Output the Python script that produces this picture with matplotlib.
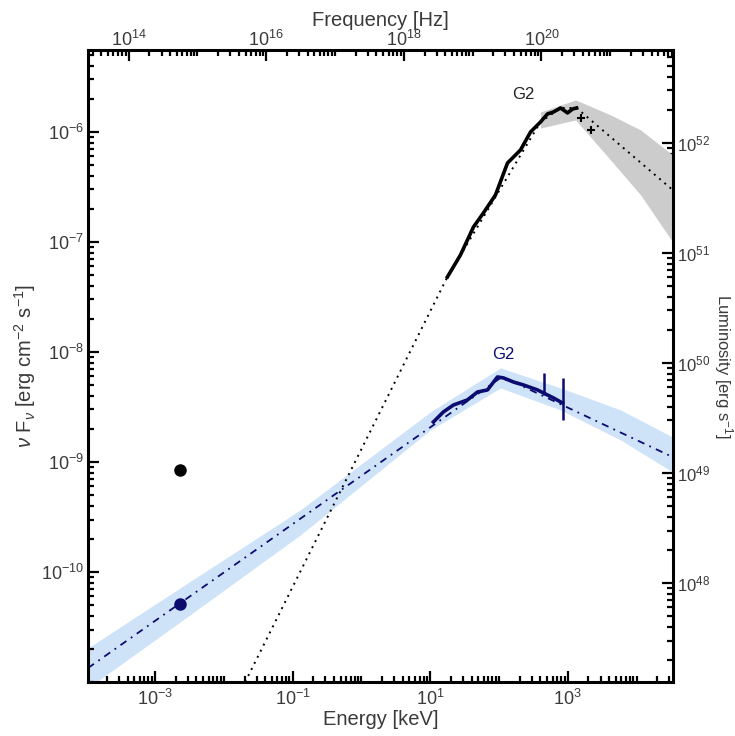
import numpy as np
import matplotlib
matplotlib.use("Agg")
import matplotlib.pyplot as plt
from matplotlib.ticker import FixedLocator, LogLocator, NullFormatter

plt.rcParams['font.family'] = ['Liberation Sans', 'DejaVu Sans']
plt.rcParams['mathtext.fontset'] = 'custom'
plt.rcParams['mathtext.rm'] = 'Liberation Sans'
plt.rcParams['mathtext.it'] = 'Liberation Sans:italic'

# ---- data (log10 values) ----
# black (G2) model line: log10 E [keV], log10 nuFnu
blk_model_logE = [-1.690, 1.250, 2.604, 2.895, 3.128, 4.525]
blk_model_logF = [-11.0, -7.318, -5.909, -5.782, -5.782, -6.527]
# black data points
blk_data_logE = [1.250, 1.440, 1.629, 1.774, 1.949, 2.124, 2.313, 2.459, 2.604,
                 2.706, 2.793, 2.895, 2.997, 3.070, 3.128]
blk_data_logF = [-7.318, -7.118, -6.864, -6.736, -6.573, -6.282, -6.164, -6.0,
                 -5.909, -5.836, -5.818, -5.782, -5.827, -5.791, -5.782]
blk_cross_logE = [3.186, 3.332]
blk_cross_logF = [-5.873, -5.982]
# grey band
grey_band_logE = [2.604, 3.114, 3.623, 4.060, 4.525]
grey_band_hi = [-5.818, -5.709, -5.845, -5.982, -6.209]
grey_band_lo = [-5.964, -5.891, -6.255, -6.573, -7.0]
# optical points
opt_logE = -2.636
opt_blk_logF = -9.073
opt_blu_logF = -10.29

# blue model line
blu_model_logE = [-3.975, 2.022, 2.211, 4.525]
blu_model_logF = [-10.873, -8.236, -8.273, -8.955]
# blue data
blu_data_logE = [1.047, 1.192, 1.338, 1.541, 1.687, 1.833, 1.978, 2.066, 2.211,
                 2.357, 2.560, 2.648, 2.793, 2.924]
blu_data_logF = [-8.636, -8.545, -8.482, -8.436, -8.364, -8.345, -8.227, -8.236,
                 -8.273, -8.300, -8.345, -8.373, -8.418, -8.464]
blu_err_logE = [2.648, 2.924]
blu_err_lo = [-8.391, -8.618]
blu_err_hi = [-8.191, -8.236]
# blue band
blu_band_logE = [-3.975, -2.636, -0.889, 1.003, 2.022, 2.895, 3.769, 4.525]
blu_band_hi = [-10.691, -10.145, -9.436, -8.545, -8.145, -8.327, -8.527, -8.773]
blu_band_lo = [-11.055, -10.455, -9.664, -8.709, -8.327, -8.527, -8.8, -9.091]

labels = ["G2", "G2"]
label_pos_logE = [2.357, 2.066]
label_pos_logF = [-5.664, -8.027]

KEV_TO_HZ = 2.418e17
LUM_FACTOR = 10 ** 58.1

p = lambda a: 10 ** np.asarray(a, dtype=float)

FS = 14.5
TFS = 13
txtc = '#3a3a3a'

fig = plt.figure(figsize=(7.35, 7.36), dpi=100)
ax = fig.add_axes([88 / 735, 1 - 682 / 736, (673 - 88) / 735, (682 - 50) / 736])
ax.set_xscale('log')
ax.set_yscale('log')
ax.set_xlim(10 ** -3.975, 10 ** 4.53)
ax.set_ylim(1e-11, 10 ** -5.255)

navy = '#0b0b70'
ax.fill_between(p(blu_band_logE), p(blu_band_lo), p(blu_band_hi),
                color='#cfe3f8', lw=0, zorder=1)
ax.fill_between(p(grey_band_logE), p(grey_band_lo), p(grey_band_hi),
                color='#cccccc', lw=0, zorder=1)

ax.plot(p(blk_model_logE), p(blk_model_logF), ls=(0, (1, 2.5)), color='black',
        lw=1.4, zorder=2)
ax.plot(p(blu_model_logE), p(blu_model_logF), ls=(0, (4, 3, 1, 3)), color=navy,
        lw=1.3, zorder=2)

ax.plot(p(blk_data_logE), p(blk_data_logF), color='black', lw=2.6, zorder=3)
ax.plot(p(blk_cross_logE), p(blk_cross_logF), ls='none', marker='+', ms=6,
        mew=1.5, color='black', zorder=3)
ax.plot(p(blu_data_logE), p(blu_data_logF), color=navy, lw=2.6, zorder=3)
ax.vlines(p(blu_err_logE), p(blu_err_lo), p(blu_err_hi), color=navy, lw=1.8,
          zorder=3)

ax.plot([10 ** opt_logE], [10 ** opt_blk_logF], 'o', color='black', ms=8, zorder=4)
ax.plot([10 ** opt_logE], [10 ** opt_blu_logF], 'o', color=navy, ms=8, zorder=4)

for t, xe, yf, c in zip(labels, label_pos_logE, label_pos_logF, ['#222222', navy]):
    ax.text(10 ** xe, 10 ** yf, t, fontsize=12, color=c, ha='center', va='center')


def style_ticks(axis_obj, pad):
    axis_obj.tick_params(which='both', direction='in', labelsize=TFS,
                         labelcolor=txtc, width=1.6, pad=pad)
    axis_obj.tick_params(which='major', length=8)
    axis_obj.tick_params(which='minor', length=4.5)


minor = lambda: LogLocator(base=10, subs=np.arange(1, 10), numticks=50)

ax.xaxis.set_major_locator(FixedLocator([1e-3, 1e-1, 1e1, 1e3]))
ax.xaxis.set_minor_locator(minor())
ax.xaxis.set_minor_formatter(NullFormatter())
ax.yaxis.set_major_locator(FixedLocator([1e-10, 1e-9, 1e-8, 1e-7, 1e-6]))
ax.yaxis.set_minor_locator(minor())
ax.yaxis.set_minor_formatter(NullFormatter())
style_ticks(ax, 3)
ax.tick_params(axis='x', pad=5)
for s in ax.spines.values():
    s.set_linewidth(2.2)

secx = ax.secondary_xaxis('top', functions=(lambda e: e * KEV_TO_HZ,
                                             lambda n: n / KEV_TO_HZ))
secx.xaxis.set_major_locator(FixedLocator([1e14, 1e16, 1e18, 1e20]))
secx.xaxis.set_minor_locator(minor())
secx.xaxis.set_minor_formatter(NullFormatter())
style_ticks(secx, 0)
secx.set_xlabel('Frequency [Hz]', fontsize=FS, color=txtc, labelpad=3)

secy = ax.secondary_yaxis('right', functions=(lambda f: f * LUM_FACTOR,
                                               lambda l: l / LUM_FACTOR))
secy.yaxis.set_major_locator(FixedLocator([1e48, 1e49, 1e50, 1e51, 1e52]))
secy.yaxis.set_minor_locator(minor())
secy.yaxis.set_minor_formatter(NullFormatter())
style_ticks(secy, 3)
secy.tick_params(labelsize=12)
fig.text(723 / 735, 1 - 366 / 736, r'Luminosity [erg s$^{-1}$]', fontsize=12,
         color=txtc, rotation=270, ha='center', va='center')

ax.set_xlabel('Energy [keV]', fontsize=FS, color=txtc, labelpad=1)
ax.set_ylabel(r'$\nu$ F$_\nu$ [erg cm$^{-2}$ s$^{-1}$]', fontsize=FS,
              color=txtc, labelpad=2)

fig.savefig('out.png', dpi=100)
